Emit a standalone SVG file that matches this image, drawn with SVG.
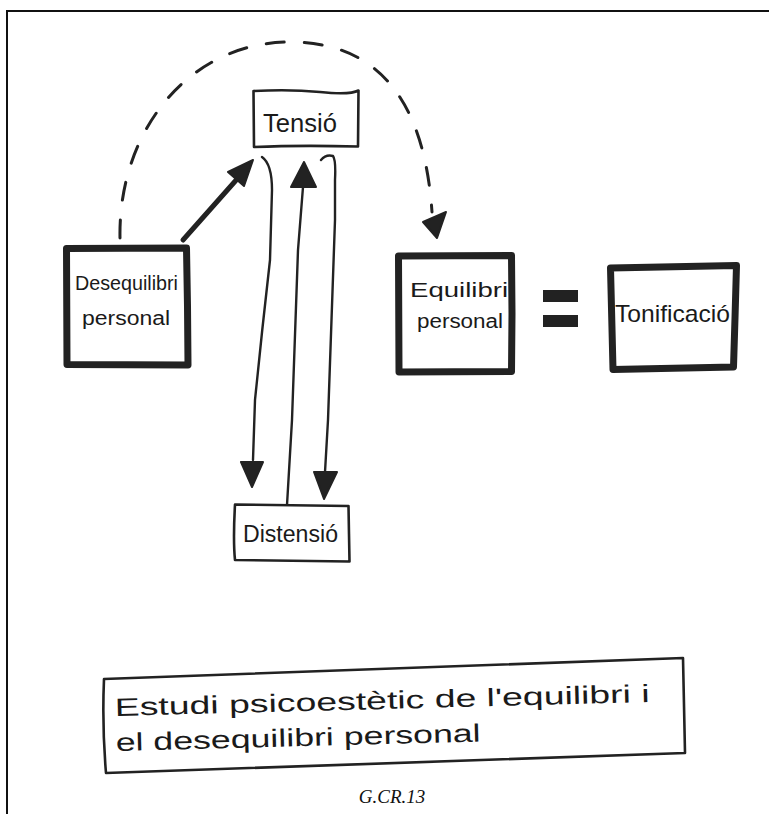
<svg xmlns="http://www.w3.org/2000/svg" width="769" height="814" viewBox="0 0 769 814">
<style>
.frame{fill:none;stroke:#111;stroke-width:2}
.thick{fill:#fff;stroke:#222;stroke-width:7;stroke-linejoin:round}
.thin{fill:#fff;stroke:#222;stroke-width:2.6;stroke-linejoin:round}
.hand{font-family:"Liberation Sans","DejaVu Sans",sans-serif;fill:#1a1a1a}
.line{fill:none;stroke:#222;stroke-width:2.4;stroke-linecap:round}
.head{fill:#222;stroke:#222;stroke-width:2;stroke-linejoin:round}
.dash{fill:none;stroke:#222;stroke-width:3;stroke-dasharray:18 20;stroke-linecap:round}
.cap{font-family:"Liberation Serif","Times New Roman",serif;font-style:italic;font-size:19px;fill:#111}
</style>
<rect width="769" height="814" fill="#fff"/>
<path class="frame" d="M7,814 L7,11 L769,11"/>

<g id="connectors">
  <path class="dash" d="M120,238 C118,130 190,42 290,42 C385,42 425,110 432,212"/>
  <polygon class="head" points="423,222 446,212 437,238"/>
  <path d="M183,240 L238,178" fill="none" stroke="#222" stroke-width="5" stroke-linecap="round"/>
  <polygon class="head" points="253,160 228,172 244,186"/>
  <path class="line" d="M262,157 Q272,164 272,190 L270,260 Q262,330 255,400 L253,460"/>
  <polygon class="head" points="241,462 263,462 252,487"/>
  <path class="line" d="M287,505 L292,420 L298,250 L303,187"/>
  <polygon class="head" points="304,162 291,187 316,187"/>
  <path class="line" d="M321,160 Q326,154 333,156 Q336,160 335,180 L335,220 L328,420 L325,472"/>
  <polygon class="head" points="314,472 337,472 324,499"/>
</g>

<g id="tensio">
  <path class="thin" d="M253.5,91 Q290,89 320,92 T358.5,90.5 L358,146.5 Q300,145 254,147 Z"/>
  <text class="hand" x="263" y="132" font-size="26" textLength="74" lengthAdjust="spacingAndGlyphs">Tensió</text>
</g>

<g id="desequilibri">
  <path class="thick" d="M66.5,248.5 L186.5,248 L187.5,306 L188,365 L67,364.5 Z"/>
  <text class="hand" x="75" y="290" font-size="20" textLength="103" lengthAdjust="spacingAndGlyphs">Desequilibri</text>
  <text class="hand" x="82" y="325" font-size="20" textLength="88" lengthAdjust="spacingAndGlyphs">personal</text>
</g>

<g id="equilibri">
  <path class="thick" d="M398.5,256 L511.5,255.5 L512,314 L511.5,371.5 L399,372 Z"/>
  <text class="hand" x="410" y="297" font-size="21" textLength="98" lengthAdjust="spacingAndGlyphs">Equilibri</text>
  <text class="hand" x="417" y="328" font-size="20" textLength="86" lengthAdjust="spacingAndGlyphs">personal</text>
</g>

<g id="equals">
  <rect x="543" y="290" width="35" height="12" fill="#222"/>
  <rect x="543" y="315" width="35" height="12" fill="#222"/>
</g>

<g id="tonificacio">
  <path class="thick" d="M610.5,268 L736.5,265.5 L735,318 L733.5,367 L613,369.5 Z"/>
  <text class="hand" x="615" y="322" font-size="24" textLength="115" lengthAdjust="spacingAndGlyphs">Tonificació</text>
</g>

<g id="distensio">
  <path class="thin" d="M235,504.5 L348.5,506 L349,534 L349.5,561.5 L235,560 Q233,540 235,504.5 Z"/>
  <text class="hand" x="243" y="542" font-size="23" textLength="95" lengthAdjust="spacingAndGlyphs">Distensió</text>
</g>

<g id="summary">
  <path class="thin" d="M104,679 L683,658 L684,705 L685,753 L106,773 Q102,726 104,679 Z"/>
  <g transform="rotate(-1.5 115 716)">
    <text class="hand" x="115" y="716" font-size="25" textLength="535" lengthAdjust="spacingAndGlyphs">Estudi psicoestètic de l'equilibri i</text>
    <text class="hand" x="115" y="751" font-size="25" textLength="365" lengthAdjust="spacingAndGlyphs">el desequilibri personal</text>
  </g>
</g>

<text class="cap" x="392" y="803" text-anchor="middle">G.CR.13</text>
</svg>
